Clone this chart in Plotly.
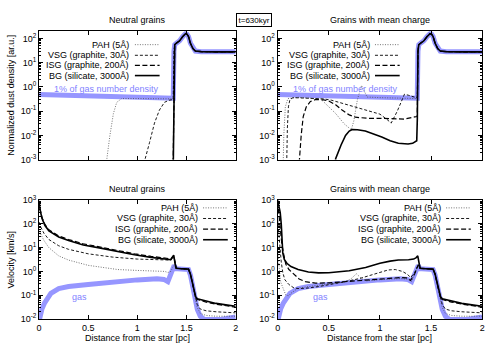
import plotly.graph_objects as go

FONT = "Liberation Sans, Arial, sans-serif"

# ---------------- Top panels: normalized dust density ----------------
# shared post-shock profile (all species follow the gas there)
dens_tail_x = [1.372, 1.38, 1.40, 1.43, 1.46, 1.475, 1.49, 1.505, 1.52, 1.54, 1.565, 1.59, 1.65, 1.8, 2.0]
dens_tail_y = [30, 55, 65, 80, 118, 145, 158, 150, 120, 63, 38, 30, 28.5, 28, 28]

gas_dens_x = [0.0, 0.5, 1.0, 1.2, 1.365]
gas_dens_y = [0.48, 0.43, 0.38, 0.36, 0.34]

# neutral grains
n_pah_dens_x = [0.68, 0.69, 0.72, 0.756, 0.79, 0.84, 1.0, 1.2, 1.365]
n_pah_dens_y = [1e-4, 0.0011, 0.0095, 0.079, 0.23, 0.33, 0.33, 0.32, 0.32]
n_vsg_dens_x = [1.07, 1.08, 1.124, 1.174, 1.224, 1.275, 1.32, 1.365]
n_vsg_dens_y = [1e-4, 0.0011, 0.0051, 0.032, 0.11, 0.23, 0.28, 0.30]
n_isg_dens_x = [1.358, 1.365]
n_isg_dens_y = [1e-5, 1e-2]
n_bg_dens_x = [1.36, 1.366]
n_bg_dens_y = [1e-5, 1e-2]

# grains with mean charge
c_pah_dens_x = [0.045, 0.051, 0.06, 0.075, 0.10, 0.2, 0.42, 0.50, 0.567, 0.65, 0.72, 0.745, 0.78, 0.82, 0.85, 0.875, 1.0, 1.2, 1.365]
c_pah_dens_y = [1e-5, 0.001, 0.01, 0.15, 0.33, 0.37, 0.32, 0.15, 0.08, 0.03, 0.017, 0.04, 0.3, 1.15, 0.6, 0.38, 0.36, 0.35, 0.33]
c_vsg_dens_x = [0.08, 0.088, 0.095, 0.105, 0.12, 0.15, 0.3, 0.45, 0.53, 0.65, 0.76, 0.9, 1.0, 1.07, 1.11, 1.17, 1.24, 1.28, 1.34, 1.365]
c_vsg_dens_y = [1e-5, 0.001, 0.02, 0.15, 0.3, 0.36, 0.35, 0.32, 0.28, 0.2, 0.15, 0.1, 0.075, 0.045, 0.032, 0.1, 0.5, 0.45, 0.36, 0.35]
c_isg_dens_x = [0.205, 0.213, 0.23, 0.25, 0.28, 0.32, 0.37, 0.45, 0.50, 0.57, 0.63, 0.70, 0.76, 0.9, 1.02, 1.24, 1.34, 1.365]
c_isg_dens_y = [1e-5, 0.001, 0.01, 0.06, 0.15, 0.25, 0.30, 0.29, 0.26, 0.18, 0.11, 0.07, 0.056, 0.05, 0.05, 0.047, 0.058, 0.06]
c_bg_dens_x = [0.555, 0.567, 0.62, 0.664, 0.70, 0.728, 0.78, 0.857, 1.018, 1.10, 1.18, 1.275, 1.32, 1.34, 1.36, 1.366]
c_bg_dens_y = [1e-5, 0.0011, 0.004, 0.010, 0.015, 0.0175, 0.017, 0.015, 0.0085, 0.006, 0.0047, 0.0044, 0.0047, 0.0052, 0.006, 0.05]

# ---------------- Bottom panels: velocity ----------------
gas_vel_x = [0.0, 0.015, 0.03, 0.055, 0.09, 0.12, 0.2, 0.3, 0.5, 0.75, 1.0, 1.2, 1.27, 1.31, 1.34, 1.36, 1.375, 1.39,
             1.45, 1.52, 1.54, 1.56, 1.576, 1.593, 1.61, 1.64, 1.68, 1.85, 1.92, 2.0]
gas_vel_y = [0.008, 0.015, 0.027, 0.046, 0.08, 0.12, 0.19, 0.23, 0.28, 0.37, 0.44, 0.49, 0.46, 0.37, 0.75, 1.4, 1.8, 1.3,
             1.25, 1.2, 0.7, 0.3, 0.12, 0.05, 0.025, 0.013, 0.0095, 0.0095, 0.011, 0.012]

# shared shock plateau for grains
vel_shock_x = [1.395, 1.45, 1.52, 1.54, 1.56, 1.576]
vel_shock_y = [1.35, 1.3, 1.25, 0.76, 0.3, 0.16]

# post-shock tails per species
bg_tail_x = [1.593, 1.61, 1.7, 1.8, 1.9, 2.0]
bg_tail_y = [0.085, 0.07, 0.055, 0.045, 0.039, 0.034]
isg_tail_x = [1.593, 1.61, 1.7, 1.8, 1.9, 2.0]
isg_tail_y = [0.08, 0.066, 0.051, 0.042, 0.036, 0.031]
vsg_tail_x = [1.593, 1.61, 1.64, 1.7, 1.8, 1.9, 2.0]
vsg_tail_y = [0.07, 0.04, 0.026, 0.022, 0.02, 0.019, 0.018]
pah_tail_x = [1.593, 1.61, 1.64, 1.7, 1.8, 2.0]
pah_tail_y = [0.06, 0.03, 0.017, 0.014, 0.013, 0.013]

# neutral grains
n_pah_vel_x = [0.0, 0.02, 0.05, 0.1, 0.2, 0.3, 0.5, 0.8, 1.0, 1.2, 1.28, 1.31, 1.34, 1.36, 1.375, 1.39]
n_pah_vel_y = [60, 35, 20, 10, 4.5, 3.0, 1.8, 1.2, 1.1, 1.05, 1.0, 0.9, 1.0, 1.5, 1.9, 1.35]
n_vsg_vel_x = [0.0, 0.02, 0.05, 0.1, 0.2, 0.3, 0.5, 0.75, 1.0, 1.2, 1.3, 1.34, 1.37, 1.385]
n_vsg_vel_y = [120, 70, 40, 22, 12, 8.5, 5.5, 4.0, 3.3, 3.0, 2.9, 3.0, 4.3, 2.0]
n_isg_vel_x = [0.0, 0.01, 0.03, 0.06, 0.1, 0.2, 0.3, 0.45, 0.64, 0.8, 0.97, 1.14, 1.29, 1.34, 1.37, 1.385]
n_isg_vel_y = [950, 440, 185, 95, 56, 31, 22, 14.5, 10.3, 7.5, 5.5, 4.3, 3.5, 3.4, 4.8, 2.0]
n_bg_vel_x = [0.0, 0.01, 0.03, 0.06, 0.1, 0.2, 0.3, 0.45, 0.64, 0.8, 0.97, 1.14, 1.29, 1.34, 1.355, 1.37, 1.385]
n_bg_vel_y = [900, 400, 170, 85, 51, 28, 20, 13, 9.3, 6.8, 5.0, 3.9, 3.2, 3.1, 3.8, 4.7, 2.0]

# grains with mean charge
c_pah_vel_x = [0.0, 0.03, 0.08, 0.11, 0.13, 0.2, 0.5, 0.65, 0.72, 0.77, 0.82, 0.87, 1.0, 1.2, 1.27, 1.31, 1.34, 1.36, 1.375, 1.39]
c_pah_vel_y = [6.0, 0.35, 0.1, 0.095, 0.12, 0.2, 0.3, 0.35, 0.5, 0.8, 0.5, 0.4, 0.45, 0.5, 0.47, 0.38, 0.75, 1.4, 1.8, 1.35]
c_vsg_vel_x = [0.0, 0.01, 0.02, 0.035, 0.05, 0.07, 0.11, 0.16, 0.21, 0.3, 0.4, 0.5, 0.63, 0.8, 0.95, 1.08, 1.15, 1.22, 1.27, 1.3, 1.34, 1.36, 1.375, 1.39]
c_vsg_vel_y = [150, 40, 10, 2.5, 0.9, 0.45, 0.28, 0.2, 0.19, 0.2, 0.23, 0.27, 0.35, 0.5, 0.8, 1.15, 1.2, 1.0, 0.75, 0.55, 0.9, 1.5, 1.9, 1.35]
c_isg_vel_x = [0.0, 0.01, 0.025, 0.04, 0.06, 0.08, 0.11, 0.145, 0.21, 0.27, 0.37, 0.5, 0.7, 1.0, 1.2, 1.26, 1.3, 1.34, 1.36, 1.375, 1.39]
c_isg_vel_y = [900, 300, 50, 15, 5, 2.0, 1.2, 0.89, 0.48, 0.37, 0.32, 0.33, 0.38, 0.48, 0.55, 0.53, 0.42, 0.8, 1.5, 1.9, 1.35]
c_bg_vel_x = [0.0, 0.01, 0.025, 0.035, 0.042, 0.05, 0.065, 0.09, 0.13, 0.2, 0.3, 0.4, 0.5, 0.6, 0.7, 0.86, 1.0, 1.1, 1.18, 1.28, 1.33, 1.355, 1.37, 1.385]
c_bg_vel_y = [1000, 600, 300, 100, 20, 6, 3.2, 2.2, 1.6, 1.2, 0.95, 0.87, 0.88, 0.95, 1.07, 1.45, 2.2, 2.7, 3.0, 3.1, 3.3, 3.8, 4.5, 2.0]

# ---------------- labels ----------------
panel_titles = ["Neutral grains", "Grains with mean charge", "Neutral grains", "Grains with mean charge"]
legend_labels = ["PAH (5Å)", "VSG (graphite, 30Å)", "ISG (graphite, 200Å)", "BG (silicate, 3000Å)"]
dens_tickvals = [1e-3, 1e-2, 1e-1, 1e0, 1e1, 1e2]
dens_ticktext = ["10<sup>-3</sup>", "10<sup>-2</sup>", "10<sup>-1</sup>", "10<sup>0</sup>", "10<sup>1</sup>", "10<sup>2</sup>"]
vel_tickvals = [1e-2, 1e-1, 1e0, 1e1, 1e2, 1e3]
vel_ticktext = ["10<sup>-2</sup>", "10<sup>-1</sup>", "10<sup>0</sup>", "10<sup>1</sup>", "10<sup>2</sup>", "10<sup>3</sup>"]
x_tickvals = [0, 0.5, 1, 1.5, 2]
x_ticktext = ["0", "0.5", "1", "1.5", "2"]

# ---------------- styles ----------------
GAS = dict(color="rgb(150,150,255)", width=5)
PAH = dict(color="rgb(80,80,80)", width=0.8, dash="1px,1.5px")
VSG = dict(color="black", width=0.9, dash="3px,2px")
ISG = dict(color="black", width=1.2, dash="5px,2.5px")
BG = dict(color="black", width=1.6)
STYLES = [PAH, VSG, ISG, BG]

fig = go.Figure()


def add(xs, ys, n, style):
    fig.add_trace(go.Scatter(x=xs, y=ys, mode="lines", line=style,
                             xaxis="x" if n == 1 else f"x{n}", yaxis="y" if n == 1 else f"y{n}",
                             showlegend=False, hoverinfo="skip"))


# top panels
for n, series in [(1, [(n_pah_dens_x, n_pah_dens_y), (n_vsg_dens_x, n_vsg_dens_y),
                       (n_isg_dens_x, n_isg_dens_y), (n_bg_dens_x, n_bg_dens_y)]),
                  (2, [(c_pah_dens_x, c_pah_dens_y), (c_vsg_dens_x, c_vsg_dens_y),
                       (c_isg_dens_x, c_isg_dens_y), (c_bg_dens_x, c_bg_dens_y)])]:
    add(gas_dens_x + dens_tail_x, gas_dens_y + dens_tail_y, n, GAS)
    for (xs, ys), st in zip(series, STYLES):
        add(xs + dens_tail_x, ys + dens_tail_y, n, st)

# bottom panels
tails = [(pah_tail_x, pah_tail_y), (vsg_tail_x, vsg_tail_y), (isg_tail_x, isg_tail_y), (bg_tail_x, bg_tail_y)]
for n, series in [(3, [(n_pah_vel_x, n_pah_vel_y), (n_vsg_vel_x, n_vsg_vel_y),
                       (n_isg_vel_x, n_isg_vel_y), (n_bg_vel_x, n_bg_vel_y)]),
                  (4, [(c_pah_vel_x, c_pah_vel_y), (c_vsg_vel_x, c_vsg_vel_y),
                       (c_isg_vel_x, c_isg_vel_y), (c_bg_vel_x, c_bg_vel_y)])]:
    add(gas_vel_x, gas_vel_y, n, GAS)
    for (xs, ys), st, (tx, ty) in zip(series, STYLES, tails):
        add(xs + vel_shock_x + tx, ys + vel_shock_y + ty, n, st)


def PX(x):
    return x / 500.0


def PY(y):
    return 1 - y / 350.0


xdom = [[PX(36.5), PX(235.5)], [PX(278), PX(485)]]
ydom_top = [PY(158), PY(25)]
ydom_bot = [PY(323), PY(200)]


def minor_vals(lo, hi):
    return [k * 10 ** e for e in range(lo, hi) for k in range(2, 10)]


layout = dict(width=500, height=350, margin=dict(l=0, r=0, t=0, b=0),
              paper_bgcolor="white", plot_bgcolor="white",
              font=dict(family=FONT, size=9, color="black"))

axis_common = dict(showgrid=False, zeroline=False, showline=True, linecolor="black", linewidth=1,
                   mirror="ticks", ticks="inside", ticklen=4, tickcolor="black", tickwidth=1,
                   tickfont=dict(family=FONT, size=9, color="black"))

for n in range(1, 5):
    xs = "xaxis" if n == 1 else f"xaxis{n}"
    ys = "yaxis" if n == 1 else f"yaxis{n}"
    top = n <= 2
    layout[xs] = dict(axis_common, domain=xdom[(n - 1) % 2], range=[0, 2],
                      anchor="y" if n == 1 else f"y{n}",
                      tickmode="array", tickvals=x_tickvals, ticktext=x_ticktext,
                      showticklabels=not top)
    layout[ys] = dict(axis_common, domain=ydom_top if top else ydom_bot, type="log",
                      range=[-3, 2.301] if top else [-2, 3],
                      anchor="x" if n == 1 else f"x{n}",
                      tickmode="array",
                      tickvals=dens_tickvals if top else vel_tickvals,
                      ticktext=dens_ticktext if top else vel_ticktext,
                      minor=dict(tickmode="array", tickvals=minor_vals(-3, 2) if top else minor_vals(-2, 3),
                                 ticks="inside", ticklen=2, tickcolor="black", showgrid=False))

annotations = []
shapes = []
# panel titles
title_pos = [(136, 13), (381.5, 13), (136, 188), (381.5, 188)]
for t, (x, y) in zip(panel_titles, title_pos):
    annotations.append(dict(text=t, x=PX(x), y=PY(y), xref="paper", yref="paper", showarrow=False,
                            xanchor="center", yanchor="middle", font=dict(size=9)))
# time box
annotations.append(dict(text="t=630kyr", x=PX(254), y=PY(13), xref="paper", yref="paper", showarrow=False,
                        xanchor="center", yanchor="middle", font=dict(size=8),
                        bordercolor="black", borderwidth=1, borderpad=1.5, bgcolor="white"))
# axis titles
annotations.append(dict(text="Normalized dust density [ar.u.]", x=PX(8), y=PY(91), xref="paper", yref="paper",
                        showarrow=False, textangle=-90, xanchor="center", yanchor="middle", font=dict(size=9)))
annotations.append(dict(text="Velocity [km/s]", x=PX(8), y=PY(261.5), xref="paper", yref="paper",
                        showarrow=False, textangle=-90, xanchor="center", yanchor="middle", font=dict(size=9)))
for xc in (136, 381.5):
    annotations.append(dict(text="Distance from the star [pc]", x=PX(xc), y=PY(343), xref="paper", yref="paper",
                            showarrow=False, xanchor="center", yanchor="middle", font=dict(size=9)))
# gas labels
for xl in (50, 292):
    annotations.append(dict(text="1% of gas number density", x=PX(xl), y=PY(85), xref="paper", yref="paper",
                            showarrow=False, xanchor="left", yanchor="middle",
                            font=dict(size=9, color="rgb(130,130,255)")))
for xl in (68, 312):
    annotations.append(dict(text="gas", x=PX(xl), y=PY(300), xref="paper", yref="paper",
                            showarrow=False, xanchor="left", yanchor="middle",
                            font=dict(size=9, color="rgb(130,130,255)")))
# keys
key_specs = [(130, [39, 50, 60.5, 71]), (373, [39, 50, 60.5, 71]),
             (199, [208, 219, 230, 241]), (445, [208, 219, 230, 241])]
for xr, rows in key_specs:
    for lab, st, yy in zip(legend_labels, STYLES, rows):
        annotations.append(dict(text=lab, x=PX(xr), y=PY(yy), xref="paper", yref="paper", showarrow=False,
                                xanchor="right", yanchor="middle", font=dict(size=9)))
        shapes.append(dict(type="line", xref="paper", yref="paper", x0=PX(xr + 3.5), x1=PX(xr + 28.5),
                           y0=PY(yy), y1=PY(yy), line=st))

layout["annotations"] = annotations
layout["shapes"] = shapes
fig.update_layout(**layout)
fig.write_html("out.html", config={"displayModeBar": False},
               post_script="document.body.style.margin='0';document.body.style.padding='0';")
